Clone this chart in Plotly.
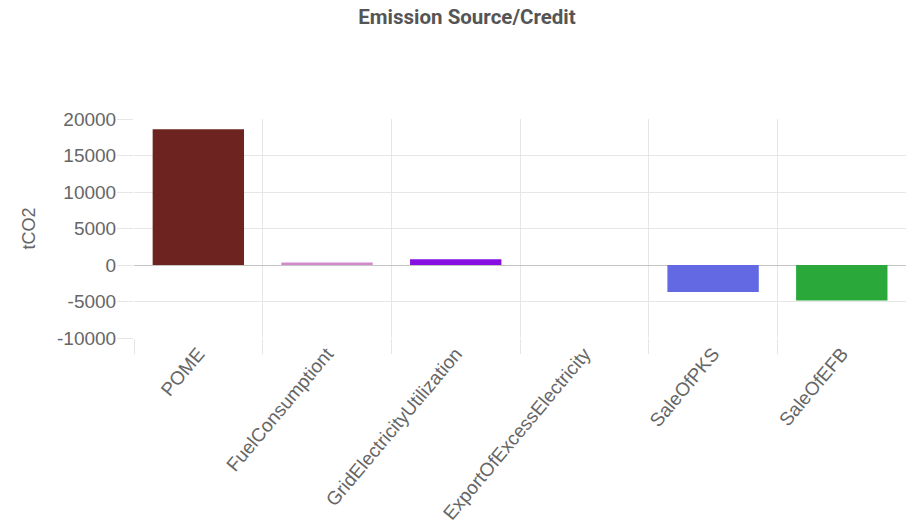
import plotly.graph_objects as go

# Emission sources (positive) and credits (negative), in tCO2
categories = [
    "POME",
    "FuelConsumptiont",
    "GridElectricityUtilization",
    "ExportOfExcessElectricity",
    "SaleOfPKS",
    "SaleOfEFB",
]
values = [18600, 330, 780, 0, -3700, -4850]
colors = ["#6D2420", "#D08BCD", "#870FE1", "#C8C8C8", "#6368E3", "#2AA83A"]

y_ticks = [-10000, -5000, 0, 5000, 10000, 15000, 20000]

fig = go.Figure(
    go.Bar(
        x=categories,
        y=values,
        marker=dict(color=colors, line=dict(width=0)),
        hoverinfo="x+y",
    )
)

label_font = dict(family="Liberation Sans, Arial, sans-serif", size=19, color="#666666")

fig.update_layout(
    width=914,
    height=528,
    margin=dict(l=134, r=8, t=119, b=190),
    paper_bgcolor="white",
    plot_bgcolor="white",
    bargap=0.29,
    showlegend=False,
    title=dict(
        text="<b>Emission Source/Credit</b>",
        x=467 / 914,
        xref="container",
        xanchor="center",
        y=1 - 17 / 528,
        yref="container",
        yanchor="middle",
        font=dict(family="Roboto, sans-serif", size=20.5, color="#555555"),
    ),
    xaxis=dict(
        type="category",
        automargin=False,
        # stop just short of the last boundary so no gridline is drawn at the right edge
        range=[-0.5, 5.499],
        tickson="boundaries",
        ticks="outside",
        ticklen=15,
        tickcolor="#e6e6e6",
        tickwidth=1,
        showgrid=True,
        gridcolor="#e6e6e6",
        gridwidth=1,
        tickangle=-50,
        tickfont=label_font,
        showline=False,
        zeroline=False,
        fixedrange=True,
    ),
    yaxis=dict(
        automargin=False,
        range=[-10000, 20000],
        tickvals=y_ticks,
        ticktext=[str(v) for v in y_ticks],
        ticks="outside",
        ticklen=16,
        tickcolor="#e6e6e6",
        tickwidth=1,
        ticklabelstandoff=-3,
        showgrid=True,
        gridcolor="#e6e6e6",
        gridwidth=1,
        zeroline=True,
        zerolinecolor="#c4c4c4",
        zerolinewidth=1,
        tickfont=label_font,
        title=dict(
            text="tCO2",
            font=dict(family="Liberation Sans, Arial, sans-serif", size=18, color="#666666"),
            standoff=16,
        ),
        showline=False,
        fixedrange=True,
    ),
)

fig.write_html("out.html")
